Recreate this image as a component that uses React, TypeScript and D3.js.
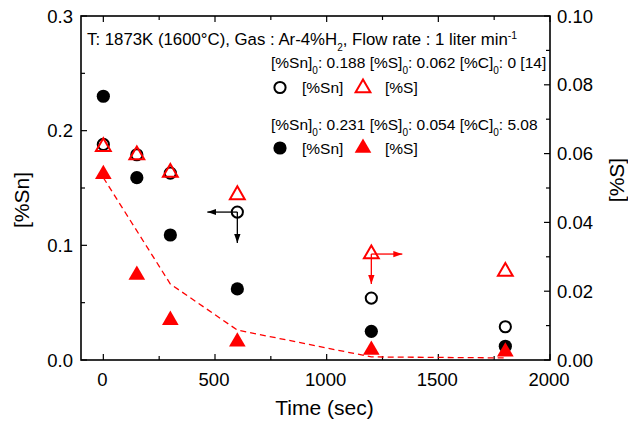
import React from "react";
import * as d3 from "d3";

const times = [0, 150, 300, 600, 1200, 1800];
const snOpen = [0.188, 0.179, 0.163, 0.129, 0.054, 0.029];
const snFilled = [0.23, 0.159, 0.109, 0.062, 0.025, 0.012];
const sOpen = [0.062, 0.0596, 0.0545, 0.048, 0.0308, 0.0257];
const sFilled = [0.054, 0.0247, 0.0116, 0.0053, 0.0029, 0.0024];
const modelTimes = [0, 300, 600, 1200, 1800];
const modelS = [0.053, 0.0221, 0.0087, 0.0009, 0.0006];
const xTicks = [0, 500, 1000, 1500, 2000];
const snTicks = [0.0, 0.1, 0.2, 0.3];
const sTicks = [0.0, 0.02, 0.04, 0.06, 0.08, 0.1];

const W = 628;
const H = 423;
const L = 81, R = 550, T = 16, B = 360;
const FONT = "'Liberation Sans', Arial, Helvetica, sans-serif";
const TF = 16.8;
const LF = 15.5;

export default function App() {
  const x = d3.scaleLinear().domain([-100, 2000]).range([L, R]);
  const ySn = d3.scaleLinear().domain([0, 0.3]).range([B, T]);
  const yS = d3.scaleLinear().domain([0, 0.1]).range([B, T]);

  const xMinor = d3.range(0, 2001, 250);
  const snMinor = d3.range(0, 0.3001, 0.05);
  const sMinor = d3.range(0, 0.1001, 0.01);

  const tri = (size: number) => d3.symbol().type(d3.symbolTriangle).size(size)()!;
  const triFilled = tri(120);
  const triOpen = tri(95);

  const model = d3
    .line<number>()
    .x((_, i) => x(modelTimes[i]))
    .y((v) => yS(v))(modelS)!;

  const arrowBlackIdx = 3; // open circle at t=600
  const arrowRedIdx = 4; // open triangle at t=1200

  const ax = x(times[arrowBlackIdx]);
  const ay = ySn(snOpen[arrowBlackIdx]);
  const rx = x(times[arrowRedIdx]);
  const ry = yS(sOpen[arrowRedIdx]);

  const sub = (t: string) => (
    <tspan baselineShift="sub" fontSize={10}>{t}</tspan>
  );

  return (
    <svg
      width={W}
      height={H}
      style={{ position: "absolute", left: 0, top: 0, background: "#fff" }}
      fontFamily={FONT}
    >
      <defs>
        <marker id="ahB" viewBox="0 0 10 10" refX="10" refY="5" markerWidth="9" markerHeight="9" markerUnits="userSpaceOnUse" orient="auto">
          <path d="M0,1.5 L10,5 L0,8.5 Z" fill="#000" />
        </marker>
        <marker id="ahR" viewBox="0 0 10 10" refX="10" refY="5" markerWidth="9" markerHeight="9" markerUnits="userSpaceOnUse" orient="auto">
          <path d="M0,1.5 L10,5 L0,8.5 Z" fill="#f00" />
        </marker>
      </defs>
      <rect x={0} y={0} width={W} height={H} fill="#fff" />

      {/* ticks bottom & top */}
      {xMinor.map((v) => {
        const major = v % 500 === 0;
        const len = major ? 6 : 4;
        return (
          <g key={"xt" + v} stroke="#000" strokeWidth={1.2}>
            <line x1={x(v)} x2={x(v)} y1={B} y2={B - len} />
            <line x1={x(v)} x2={x(v)} y1={T} y2={T + len} />
          </g>
        );
      })}
      {snMinor.map((v, i) => {
        const len = i % 2 === 0 ? 6 : 4;
        return (
          <line key={"st" + i} x1={L} x2={L + len} y1={ySn(v)} y2={ySn(v)} stroke="#000" strokeWidth={1.2} />
        );
      })}
      {sMinor.map((v, i) => {
        const len = i % 2 === 0 ? 6 : 4;
        return (
          <line key={"rt" + i} x1={R} x2={R - len} y1={yS(v)} y2={yS(v)} stroke="#000" strokeWidth={1.2} />
        );
      })}
      <rect x={L} y={T} width={R - L} height={B - T} fill="none" stroke="#000" strokeWidth={1.6} />

      {/* tick labels */}
      {xTicks.map((v) => (
        <text key={"xl" + v} x={x(v) - 1} y={B + 25.5} textAnchor="middle" fontSize={18.5}>
          {v}
        </text>
      ))}
      {snTicks.map((v) => (
        <text key={"yl" + v} x={L - 8} y={ySn(v) + 6.5} textAnchor="end" fontSize={18.5}>
          {v.toFixed(1)}
        </text>
      ))}
      {sTicks.map((v) => (
        <text key={"sl" + v} x={R + 7} y={yS(v) + 6.5} textAnchor="start" fontSize={18.5}>
          {v.toFixed(2)}
        </text>
      ))}

      {/* axis titles */}
      <text x={(L + R) / 2 + 9} y={415} textAnchor="middle" fontSize={21}>Time (sec)</text>
      <text transform={`translate(29,${(T + B) / 2 + 12}) rotate(-90)`} textAnchor="middle" fontSize={21}>[%Sn]</text>
      <text transform={`translate(624,${(T + B) / 2 - 8}) rotate(-90)`} textAnchor="middle" fontSize={21}>[%S]</text>

      {/* model dashed line */}
      <path d={model} fill="none" stroke="#f00" strokeWidth={1.3} strokeDasharray="6,4" />

      {/* arrows */}
      <line x1={ax} y1={ay} x2={ax - 30} y2={ay} stroke="#000" strokeWidth={1.3} markerEnd="url(#ahB)" />
      <line x1={ax} y1={ay} x2={ax} y2={ay + 31} stroke="#000" strokeWidth={1.3} markerEnd="url(#ahB)" />
      <line x1={rx} y1={ry} x2={rx + 31} y2={ry} stroke="#f00" strokeWidth={1.3} markerEnd="url(#ahR)" />
      <line x1={rx} y1={ry} x2={rx} y2={ry + 30} stroke="#f00" strokeWidth={1.3} markerEnd="url(#ahR)" />

      {/* markers */}
      {times.map((t, i) => (
        <circle key={"cf" + i} cx={x(t)} cy={ySn(snFilled[i])} r={6.6} fill="#000" />
      ))}
      {times.map((t, i) => (
        <circle key={"co" + i} cx={x(t)} cy={ySn(snOpen[i])} r={5.6} fill="none" stroke="#000" strokeWidth={2} />
      ))}
      {times.map((t, i) => (
        <path key={"tf" + i} d={triFilled} transform={`translate(${x(t)},${yS(sFilled[i])})`} fill="#f00" />
      ))}
      {times.map((t, i) => (
        <path key={"to" + i} d={triOpen} transform={`translate(${x(t)},${yS(sOpen[i])})`} fill="none" stroke="#f00" strokeWidth={2} />
      ))}

      {/* annotation text */}
      <text x={87} y={44.5} fontSize={TF}>
        T: 1873K (1600°C), Gas : Ar-4%H{sub("2")}, Flow rate : 1 liter min
        <tspan baselineShift="super" fontSize={10.5}>-1</tspan>
      </text>
      <text x={271} y={68} fontSize={LF}>
        [%Sn]{sub("0")}: 0.188 [%S]{sub("0")}: 0.062 [%C]{sub("0")}: 0 [14]
      </text>
      <circle cx={280} cy={87.5} r={5.6} fill="none" stroke="#000" strokeWidth={2} />
      <text x={302} y={93} fontSize={LF}>[%Sn]</text>
      <path d={triOpen} transform="translate(363,88)" fill="none" stroke="#f00" strokeWidth={2} />
      <text x={385} y={93} fontSize={LF}>[%S]</text>
      <text x={271} y={129.5} fontSize={LF}>
        [%Sn]{sub("0")}: 0.231 [%S]{sub("0")}: 0.054 [%C]{sub("0")}: 5.08
      </text>
      <circle cx={280} cy={148} r={6.6} fill="#000" />
      <text x={302} y={153.5} fontSize={LF}>[%Sn]</text>
      <path d={triFilled} transform="translate(363,148)" fill="#f00" />
      <text x={385} y={153.5} fontSize={LF}>[%S]</text>
    </svg>
  );
}
